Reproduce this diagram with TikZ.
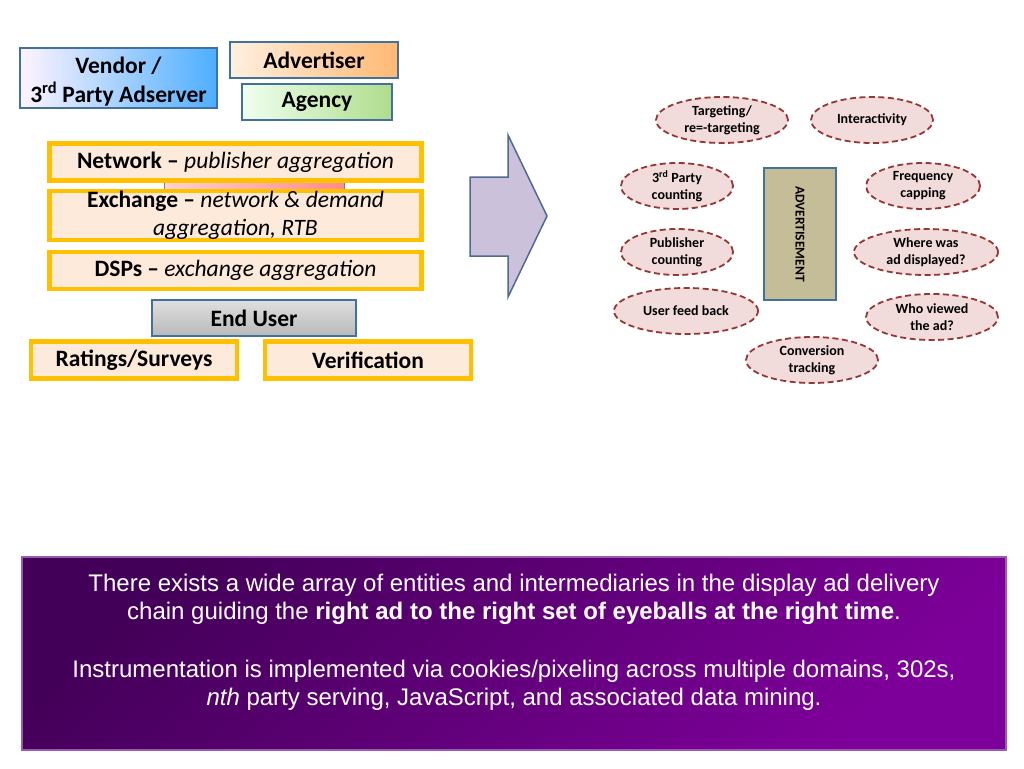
\documentclass[tikz,border=0pt]{standalone}
\usepackage{fontspec}
\setmainfont{Carlito}
\newfontfamily\arialfont{Liberation Sans}
\usetikzlibrary{positioning, shapes.geometric}

\definecolor{boxedge}{HTML}{41719C}
\definecolor{gold}{HTML}{FFC000}
\definecolor{peach}{HTML}{FDEADA}
\definecolor{dashred}{HTML}{953735}
\definecolor{dashfill}{HTML}{F2DCDB}
\definecolor{khaki}{HTML}{C4BD97}
\definecolor{lilac}{HTML}{CCC1DA}
\definecolor{arrowedge}{HTML}{4F6B92}
\definecolor{plumdark}{HTML}{430058}
\definecolor{plumlight}{HTML}{7E009A}
\definecolor{plumedge}{HTML}{9A5AB0}

\begin{document}
\begin{tikzpicture}[x=1pt, y=-1pt,
        party/.style={draw=boxedge, line width=1.5pt, inner sep=0pt, align=center,
            font=\fontsize{23.5}{29}\selectfont\bfseries},
        layer/.style={draw=gold, line width=4.5pt, fill=peach, inner sep=0pt,
            minimum width=372, align=center, font=\fontsize{23.5}{28}\selectfont},
        feature/.style={ellipse, draw=dashred, fill=dashfill, line width=1.8pt,
            dash pattern=on 6pt off 3.5pt, inner sep=0pt, minimum height=46,
            align=center, font=\fontsize{14}{17}\selectfont\bfseries}]

    \fill[white] (0,0) rectangle (1024,768);

    % who buys and sells
    \node[party, left color=white!85!magenta!30, right color=blue!45!cyan!70,
        minimum width=197, minimum height=60] (vendor) at (118.5,78)
        {\\[-6pt]Vendor /\\3\textsuperscript{rd} Party Adserver};
    \node[party, left color=orange!12, right color=orange!55,
        minimum width=168, minimum height=36] (advertiser) at (314,60) {Advertiser};
    \node[party, left color=green!6, right color=green!40!olive!45,
        minimum width=150, minimum height=36] (agency) at (317,102) {Agency};

    % the aggregation layers
    \node[draw=gray, line width=1pt, left color=red!18!white, right color=red!45!white,
        minimum width=180, minimum height=38] (hidden) at (254.5,170) {};
    \node[layer, minimum height=37] (network) at (235.5,162)
        {\textbf{Network –} \textit{publisher aggregation}};
    \node[layer, minimum height=49] (exchange) at (235.5,215.5)
        {\textbf{Exchange –} \textit{network \& demand}\\\textit{aggregation, RTB}};
    \node[layer, minimum height=37] (dsps) at (235.5,270.5)
        {\textbf{DSPs –} \textit{exchange aggregation}};
    \node[party, top color=gray!25, bottom color=gray!55,
        minimum width=204, minimum height=36] (enduser) at (254,318) {End User};
    \node[layer, minimum width=206, minimum height=37] (ratings) at (134,360)
        {\textbf{Ratings/Surveys}};
    \node[layer, minimum width=206, minimum height=37] (verification) at (368,360)
        {\textbf{Verification}};

    % big arrow
    \draw[arrowedge, line width=1.5pt, fill=lilac, line join=miter]
        (470,177) -- (508,177) -- (508,135) -- (547,216) -- (508,297)
        -- (508,256) -- (470,256) -- cycle;

    % the ad and what is measured round it
    \node[draw=boxedge, line width=1.5pt, fill=khaki, minimum width=72, minimum height=132,
        inner sep=0pt] (ad) at (800,234) {};
    \node[rotate=-90, font=\fontsize{13.5}{16}\selectfont\bfseries] (adlabel) at (ad.center)
        {ADVERTISEMENT};

    \node[feature, minimum width=132] (targeting) at (722,120) {Targeting/\\re=-targeting};
    \node[feature, minimum width=122] (interact) at (872,120) {Interactivity};
    \node[feature, minimum width=112] (thirdparty) at (677,186)
        {3\textsuperscript{rd} Party\\counting};
    \node[feature, minimum width=114] (frequency) at (923,186) {Frequency\\capping};
    \node[feature, minimum width=112] (publisher) at (677,252) {Publisher\\counting};
    \node[feature, minimum width=144] (where) at (926,252) {Where was\\ad displayed?};
    \node[feature, minimum width=144] (feedback) at (686,311) {User feed back};
    \node[feature, minimum width=132] (who) at (932,317) {Who viewed\\the ad?};
    \node[feature, minimum width=132] (conversion) at (812,360) {Conversion\\tracking};

    % summary
    \node[draw=plumedge, line width=1.5pt, left color=plumdark,
        right color=plumlight, shading angle=40,
        minimum width=984, minimum height=193, inner sep=0pt] (summary) at (514,653.5) {};
    \node[text=white, align=center, font=\arialfont\fontsize{24}{28}\selectfont]
        (summarytext) at (514,642)
        {There exists a wide array of entities and intermediaries in the display ad delivery\\
         chain guiding the \textbf{right ad to the right set of eyeballs at the right time}.\\[30pt]
         Instrumentation is implemented via cookies/pixeling across multiple domains, 302s,\\
         \textit{nth} party serving, JavaScript, and associated data mining.};
\end{tikzpicture}
\end{document}
